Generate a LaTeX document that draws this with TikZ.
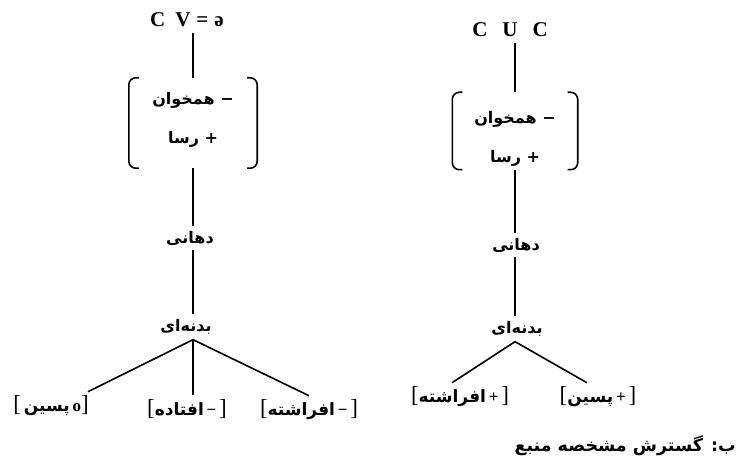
\documentclass[tikz,border=0pt]{standalone}
\usepackage{fontspec}
\setmainfont{Liberation Serif}
\newfontfamily\ar[Script=Arabic]{DejaVu Sans}
\TeXXeTstate=1
\usetikzlibrary{positioning}

\newcommand\lbr{{\rmfamily\mdseries\fontsize{23}{24}\selectfont[}}
\newcommand\rbr{{\rmfamily\mdseries\fontsize{23}{24}\selectfont]}}

\tikzset{
  edge/.style={line width=1.6pt},
  brk/.style={line width=1.6pt, rounded corners=7pt},
  seg/.style={font=\bfseries\fontsize{21}{23}\selectfont, inner sep=1pt, inner ysep=6pt},
  feat/.style={font=\ar\bfseries\fontsize{16}{39}\selectfont, align=center, inner sep=0pt},
  lbl/.style={font=\ar\bfseries\fontsize{16}{18}\selectfont, inner sep=1pt, inner ysep=5pt},
  leaf/.style={font=\ar\bfseries\fontsize{17}{19}\selectfont, inner sep=1pt, inner ysep=4pt},
  note/.style={font=\ar\bfseries\fontsize{17.5}{19}\selectfont, inner sep=1pt, anchor=east}
}

\begin{document}
\begin{tikzpicture}[x=1pt,y=-1pt]
    \useasboundingbox (0,0) rectangle (738,465);

    % left tree
    \node[seg] (cv) at (187,20) {C\hspace{10pt}V\hspace{6pt}=\hspace{6pt}ə};
    \node[feat, minimum width=128pt, minimum height=90pt] (fl) at (193,123) {\beginR − همخوان\endR\\\beginR + رسا\endR\rule[-11pt]{0pt}{11pt}};
    \node[lbl] (dl) at (190,238) {\beginR دهانی\endR};
    \node[lbl] (bl) at (186,327) {\beginR بدنه‌ای\endR};
    \node[leaf] (l1) at (51,406) {\lbr\,\hbox{پسین}\,{\rmfamily o}\rbr};
    \node[leaf] (l2) at (187,409) {\lbr\hbox{افتاده}\,{\rmfamily −}\,\rbr};
    \node[leaf] (l3) at (309,410) {\lbr\hbox{افراشته}\,{\rmfamily −}\,\rbr};

    \draw[brk] ([xshift=10pt]fl.north west) -- (fl.north west) -- (fl.south west) -- ([xshift=10pt]fl.south west);
    \draw[brk] ([xshift=-10pt]fl.north east) -- (fl.north east) -- (fl.south east) -- ([xshift=-10pt]fl.south east);

    \draw[edge] (cv.south -| fl.north) -- (fl.north);
    \draw[edge] (fl.south) -- (dl.north -| fl.south);
    \draw[edge] (dl.south -| fl.south) -- (bl.north -| fl.south);
    \draw[edge] (bl.south -| fl.south) -- ([xshift=-2pt]l1.north east);
    \draw[edge] (bl.south -| fl.south) -- (l2.north -| fl.south);
    \draw[edge] (bl.south -| fl.south) -- (l3.north);

    % right tree
    \node[seg] (cuc) at (510,30) {C\hspace{15pt}U\hspace{15pt}C};
    \node[feat, minimum width=125pt, minimum height=77pt] (fr) at (515,131) {\rule{0pt}{28pt}\beginR − همخوان\endR\\\beginR + رسا\endR};
    \node[lbl] (dr) at (516,245) {\beginR دهانی\endR};
    \node[lbl] (br) at (517,329) {\beginR بدنه‌ای\endR};
    \node[leaf] (r1) at (460,397) {\lbr\hbox{افراشته}\,{\rmfamily +}\,\rbr};
    \node[leaf] (r2) at (598,397) {\lbr\hbox{پسین}\,{\rmfamily +}\,\rbr};

    \draw[brk] ([xshift=10pt]fr.north west) -- (fr.north west) -- (fr.south west) -- ([xshift=10pt]fr.south west);
    \draw[brk] ([xshift=-10pt]fr.north east) -- (fr.north east) -- (fr.south east) -- ([xshift=-10pt]fr.south east);

    \draw[edge] (cuc.south -| fr.north) -- (fr.north);
    \draw[edge] (fr.south) -- (dr.north -| fr.south);
    \draw[edge] (dr.south -| fr.south) -- (br.north -| fr.south);
    \draw[edge] (br.south -| fr.south) -- ([xshift=-8pt]r1.north);
    \draw[edge] (br.south -| fr.south) -- ([xshift=-11pt]r2.north);

    \node[note] (cap) at (737,446) {\beginR ب: گسترش مشخصه منبع\endR};
\end{tikzpicture}
\end{document}
